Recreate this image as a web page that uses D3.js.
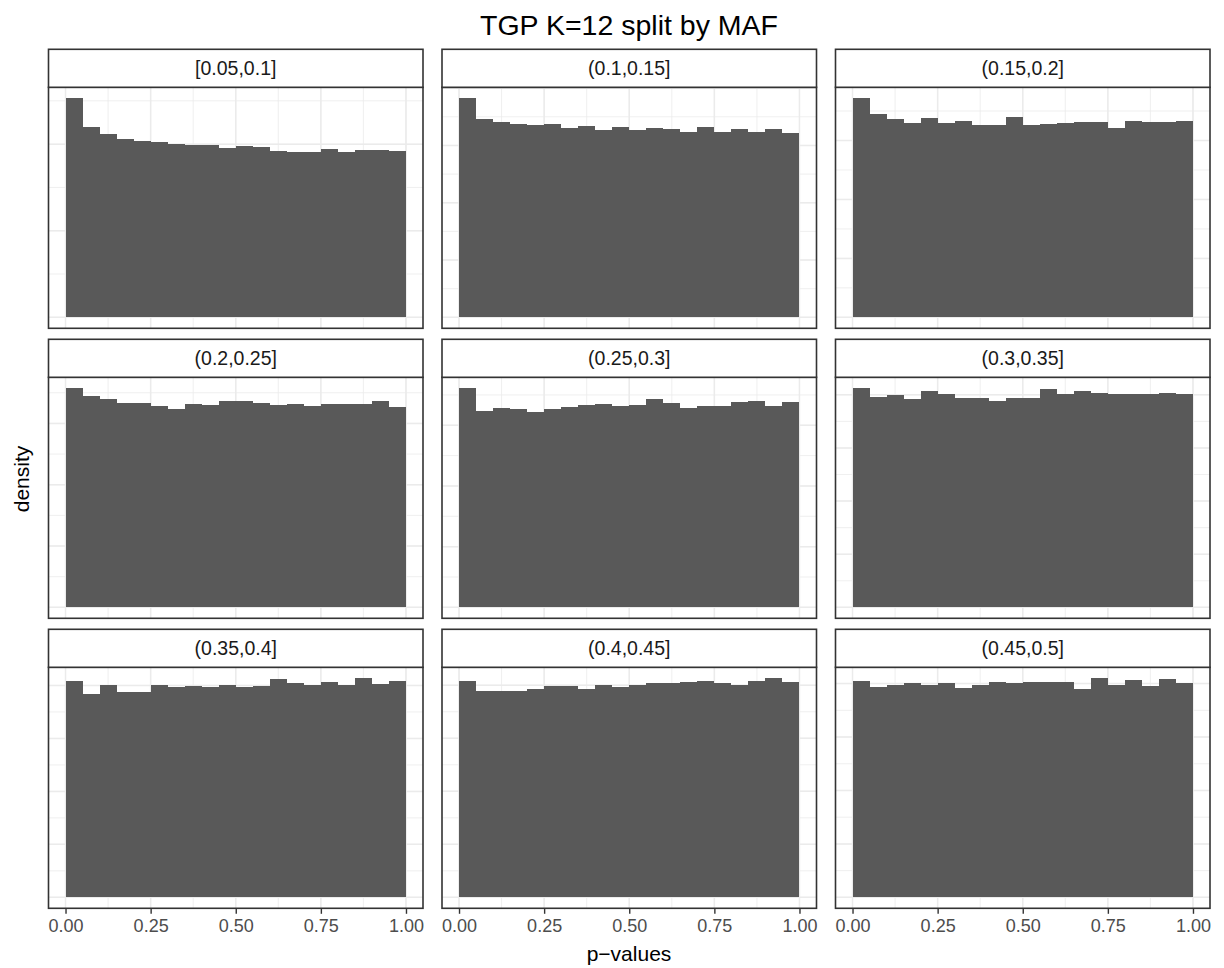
<!DOCTYPE html>
<html>
<head>
<meta charset="utf-8">
<script src="https://cdn.jsdelivr.net/npm/d3@7"></script>
<style>
  body { margin: 0; background: #fff; }
  svg { display: block; font-family: "Liberation Sans", Arial, Helvetica, sans-serif; }
</style>
</head>
<body>
<div id="chart"></div>
<script>
const width = 1224, height = 968;

// facet labels (MAF bins) and histogram bin starts (binwidth 0.05)
const mafLabels = ["[0.05,0.1]", "(0.1,0.15]", "(0.15,0.2]",
                   "(0.2,0.25]", "(0.25,0.3]", "(0.3,0.35]",
                   "(0.35,0.4]", "(0.4,0.45]", "(0.45,0.5]"];
const binStarts = [0, 0.05, 0.1, 0.15, 0.2, 0.25, 0.3, 0.35, 0.4, 0.45,
                   0.5, 0.55, 0.6, 0.65, 0.7, 0.75, 0.8, 0.85, 0.9, 0.95];
const binWidth = 0.05;

// density of p-values per bin, one array per MAF facet
const dens_005_010 = [1.265, 1.099, 1.059, 1.030, 1.019, 1.012, 1.001, 0.995, 0.995, 0.977,
                      0.990, 0.982, 0.960, 0.954, 0.954, 0.971, 0.954, 0.965, 0.965, 0.960];
const dens_010_015 = [1.147, 1.038, 1.022, 1.011, 1.006, 1.011, 0.991, 1.001, 0.980, 0.996,
                      0.980, 0.991, 0.985, 0.970, 0.996, 0.970, 0.985, 0.970, 0.985, 0.964];
const dens_015_020 = [1.115, 1.034, 1.008, 0.988, 1.013, 0.988, 0.998, 0.978, 0.978, 1.019,
                      0.978, 0.983, 0.988, 0.993, 0.993, 0.963, 0.998, 0.993, 0.993, 0.998];
const dens_020_025 = [1.072, 1.033, 1.018, 0.998, 0.998, 0.984, 0.969, 0.993, 0.988, 1.008,
                      1.008, 0.998, 0.988, 0.993, 0.984, 0.993, 0.993, 0.993, 1.008, 0.979];
const dens_025_030 = [1.083, 0.970, 0.984, 0.979, 0.965, 0.979, 0.989, 0.999, 1.004, 0.994,
                      0.999, 1.029, 1.009, 0.984, 0.994, 0.994, 1.014, 1.019, 0.994, 1.014];
const dens_030_035 = [1.031, 0.989, 0.998, 0.979, 1.017, 1.003, 0.984, 0.984, 0.970, 0.984,
                      0.984, 1.027, 1.003, 1.017, 1.008, 1.003, 1.003, 1.003, 1.008, 1.003];
const dens_035_040 = [1.020, 0.958, 1.001, 0.968, 0.968, 1.001, 0.993, 0.996, 0.991, 1.001,
                      0.991, 0.996, 1.029, 1.010, 1.001, 1.015, 1.001, 1.034, 1.006, 1.020];
const dens_040_045 = [1.019, 0.971, 0.971, 0.971, 0.981, 0.995, 0.995, 0.981, 1.000, 0.990,
                      1.000, 1.009, 1.009, 1.014, 1.019, 1.009, 1.000, 1.019, 1.033, 1.014];
const dens_045_050 = [1.011, 0.983, 0.992, 1.002, 0.992, 1.002, 0.978, 0.992, 1.007, 1.002,
                      1.007, 1.007, 1.007, 0.974, 1.025, 0.992, 1.016, 0.988, 1.021, 1.002];

const panelDensities = [dens_005_010, dens_010_015, dens_015_020,
                        dens_020_025, dens_025_030, dens_030_035,
                        dens_035_040, dens_040_045, dens_045_050];

const xTicks = [0, 0.25, 0.5, 0.75, 1];
const xTickLabels = ["0.00", "0.25", "0.50", "0.75", "1.00"];

// layout (facet_wrap, 3 x 3)
const panelLeft = 48.5, panelW = 374.5, gapX = 19;
const stripTop = 49.3, stripH = 38, panelH = 241, rowPitch = 290;

const svg = d3.select("#chart")
    .append("svg")
    .attr("width", width)
    .attr("height", height);

svg.append("rect").attr("width", width).attr("height", height).attr("fill", "#fff");

/**
 * labeling::extended (Talbot et al.), as used by ggplot2 for default breaks
 */
function extendedBreaks(dmin, dmax, m) {
    const Q = [1, 5, 2, 2.5, 4, 3];
    const w = [0.25, 0.2, 0.5, 0.05];
    const eps = 1e-10, n = Q.length, range = dmax - dmin;
    let best = null, bestScore = -2;
    for (let j = 1; j < 50; j++) {
        let stop = false;
        for (let qi = 0; qi < n; qi++) {
            const q = Q[qi];
            const sm = 1 - qi / (n - 1) - j + 1;
            if (w[0] * sm + w[1] + w[2] + w[3] < bestScore) { stop = true; break; }
            for (let k = 2; k < 50; k++) {
                const dm = k >= m ? 2 - (k - 1) / (m - 1) : 1;
                if (w[0] * sm + w[1] + w[2] * dm + w[3] < bestScore) break;
                const delta = range / (k + 1) / j / q;
                for (let z = Math.ceil(Math.log10(delta)); z < 20; z++) {
                    const step = j * q * Math.pow(10, z);
                    const span = step * (k - 1);
                    let cm = 1;
                    if (span > range) {
                        const half = (span - range) / 2;
                        cm = 1 - 0.5 * (2 * half * half) / Math.pow(0.1 * range, 2);
                    }
                    if (w[0] * sm + w[1] * cm + w[2] * dm + w[3] < bestScore) break;
                    const minStart = Math.floor(dmax / step) * j - (k - 1) * j;
                    const maxStart = Math.ceil(dmin / step) * j;
                    if (minStart > maxStart) continue;
                    for (let start = minStart; start <= maxStart; start++) {
                        const lmin = start * (step / j), lmax = lmin + step * (k - 1);
                        const mod = ((lmin % step) + step) % step;
                        const v = ((mod < eps || step - mod < eps) && lmin <= 0 && lmax >= 0) ? 1 : 0;
                        const s = 1 - qi / (n - 1) - j + v;
                        const c = 1 - 0.5 * (Math.pow(dmax - lmax, 2) + Math.pow(dmin - lmin, 2)) / Math.pow(0.1 * range, 2);
                        const r = (k - 1) / (lmax - lmin);
                        const rt = (m - 1) / (Math.max(lmax, dmax) - Math.min(dmin, lmin));
                        const g = 2 - Math.max(r / rt, rt / r);
                        const score = w[0] * s + w[1] * c + w[2] * g + w[3];
                        if (score > bestScore) { bestScore = score; best = [lmin, lmax, step]; }
                    }
                }
            }
        }
        if (stop) break;
    }
    const out = [];
    for (let v = best[0]; v <= best[1] + best[2] * 1e-6; v += best[2]) out.push(+v.toFixed(10));
    return out.filter(b => b >= dmin - 1e-9 && b <= dmax + 1e-9);
}

/**
 * ggplot2 regular_minor_breaks with n = 2
 */
function minorBreaks(b, lo, hi) {
    if (b.length < 2) return [];
    const bd = b[1] - b[0];
    let bb = b.slice();
    if (lo < bb[0]) bb.unshift(bb[0] - bd);
    if (hi > bb[bb.length - 1]) bb.push(bb[bb.length - 1] + bd);
    const out = [];
    for (let i = 0; i < bb.length - 1; i++) { out.push(bb[i], (bb[i] + bb[i + 1]) / 2); }
    out.push(bb[bb.length - 1]);
    return out.filter(v => v >= lo && v <= hi);
}

const xDomain = [-0.05, 1.05];
const xMajor = xTicks;
const xMinor = minorBreaks(xMajor, xDomain[0], xDomain[1]);

panelDensities.forEach(function (dens, i) {
    const col = i % 3, row = Math.floor(i / 3);
    const left = panelLeft + col * (panelW + gapX);
    const sTop = stripTop + row * rowPitch;
    const top = sTop + stripH;
    const bottom = top + panelH;

    const ymax = d3.max(dens);
    const yDomain = [-0.05 * ymax, 1.05 * ymax];
    const x = d3.scaleLinear().domain(xDomain).range([left, left + panelW]);
    const y = d3.scaleLinear().domain(yDomain).range([bottom, top]);

    const yMajor = extendedBreaks(yDomain[0], yDomain[1], 5);
    const yMinor = minorBreaks(yMajor, yDomain[0], yDomain[1]);

    const g = svg.append("g").attr("class", "panel");

    g.append("rect")
        .attr("x", left).attr("y", top)
        .attr("width", panelW).attr("height", panelH)
        .attr("fill", "#fff");

    // minor grid
    g.selectAll(".ymin").data(yMinor).enter().append("line")
        .attr("x1", left).attr("x2", left + panelW)
        .attr("y1", d => y(d)).attr("y2", d => y(d))
        .attr("stroke", "#EBEBEB").attr("stroke-width", 0.8);
    g.selectAll(".xmin").data(xMinor).enter().append("line")
        .attr("y1", top).attr("y2", bottom)
        .attr("x1", d => x(d)).attr("x2", d => x(d))
        .attr("stroke", "#EBEBEB").attr("stroke-width", 0.8);
    // major grid
    g.selectAll(".ymaj").data(yMajor).enter().append("line")
        .attr("x1", left).attr("x2", left + panelW)
        .attr("y1", d => y(d)).attr("y2", d => y(d))
        .attr("stroke", "#EBEBEB").attr("stroke-width", 1.5);
    g.selectAll(".xmaj").data(xMajor).enter().append("line")
        .attr("y1", top).attr("y2", bottom)
        .attr("x1", d => x(d)).attr("x2", d => x(d))
        .attr("stroke", "#EBEBEB").attr("stroke-width", 1.5);

    // histogram bars
    g.selectAll(".bar").data(dens).enter().append("rect")
        .attr("x", (d, k) => x(binStarts[k]))
        .attr("width", (d, k) => x(binStarts[k] + binWidth) - x(binStarts[k]))
        .attr("y", d => y(d))
        .attr("height", d => y(0) - y(d))
        .attr("fill", "#595959")
        .attr("shape-rendering", "crispEdges");

    // panel border
    g.append("rect")
        .attr("x", left).attr("y", top)
        .attr("width", panelW).attr("height", panelH)
        .attr("fill", "none").attr("stroke", "#333333").attr("stroke-width", 1.6);

    // strip
    svg.append("rect")
        .attr("x", left).attr("y", sTop)
        .attr("width", panelW).attr("height", stripH)
        .attr("fill", "#fff").attr("stroke", "#333333").attr("stroke-width", 1.6);
    svg.append("text")
        .attr("x", left + panelW / 2)
        .attr("y", sTop + stripH / 2 + 7)
        .attr("text-anchor", "middle")
        .attr("font-size", 19.5)
        .attr("fill", "#1A1A1A")
        .text(mafLabels[i]);

    // x axis only under bottom row
    if (row === 2) {
        const ax = svg.append("g")
            .attr("transform", `translate(0,${bottom})`)
            .call(d3.axisBottom(x).tickValues(xTicks).tickSize(5.5).tickPadding(5)
                .tickFormat((d, k) => xTickLabels[k]));
        ax.select(".domain").remove();
        ax.selectAll(".tick line").attr("stroke", "#333333").attr("stroke-width", 1.4);
        ax.selectAll(".tick text")
            .attr("fill", "#4D4D4D")
            .attr("font-size", 18)
            .attr("font-family", "Liberation Sans, Arial, sans-serif");
    }
});

// titles
svg.append("text")
    .attr("x", 629).attr("y", 35)
    .attr("text-anchor", "middle")
    .attr("font-size", 28.5)
    .attr("fill", "#000")
    .text("TGP K=12 split by MAF");

svg.append("text")
    .attr("x", 629).attr("y", 961)
    .attr("text-anchor", "middle")
    .attr("font-size", 21)
    .attr("fill", "#000")
    .text("p\u2212values");

svg.append("text")
    .attr("transform", "translate(29,479) rotate(-90)")
    .attr("text-anchor", "middle")
    .attr("font-size", 21)
    .attr("fill", "#000")
    .text("density");
</script>
</body>
</html>
